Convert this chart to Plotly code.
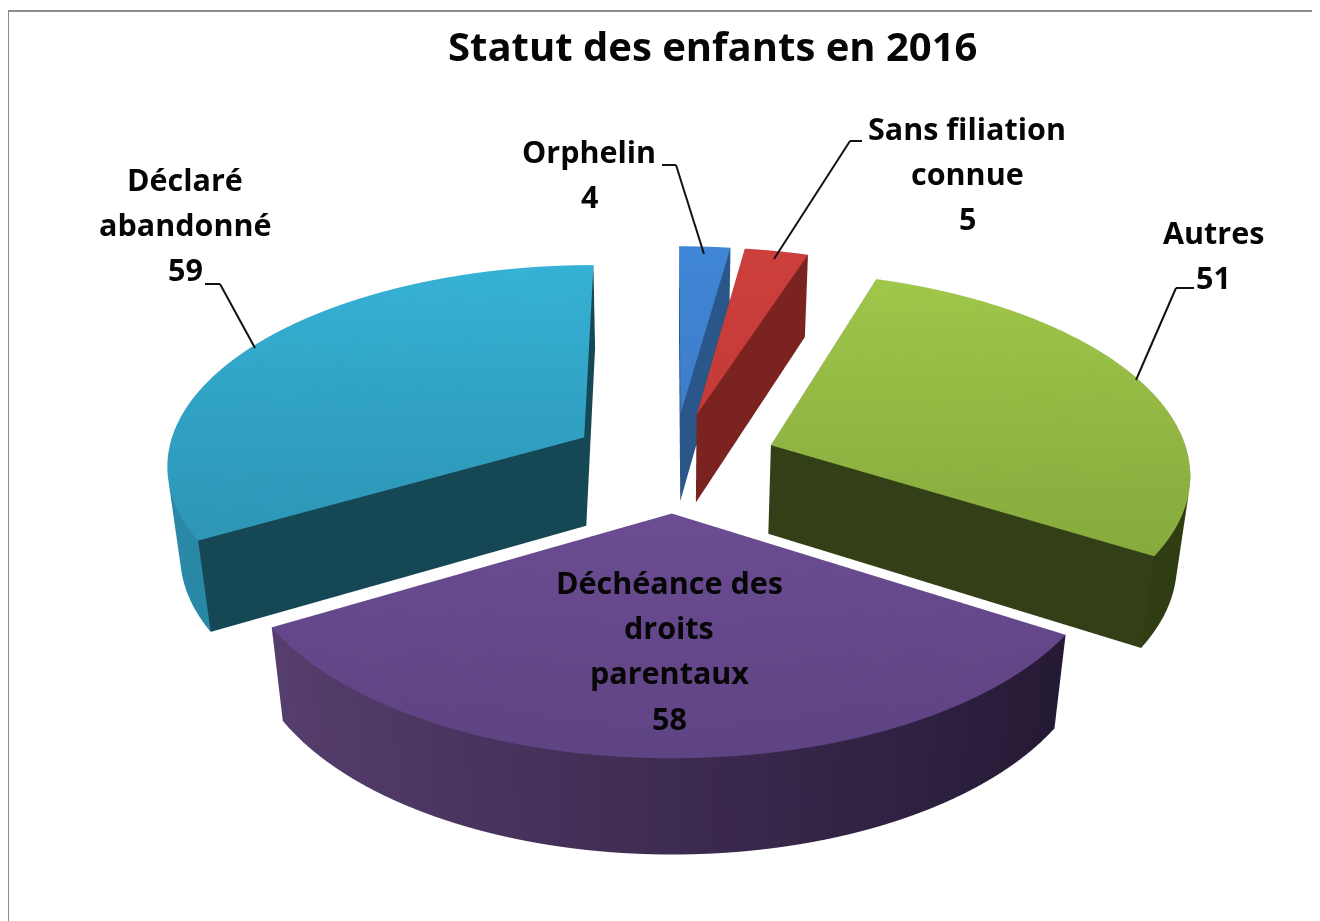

import numpy as np
import plotly.graph_objects as go

categories = ["Orphelin", "Sans filiation connue", "Autres", "Déchéance des droits parentaux", "Déclaré abandonné"]
values = [4, 5, 51, 58, 59]

top_far = ["#3f86d6", "#cc3f3c", "#a2cb4b", "#8059ab", "#36b4d8"]
top_near = ["#3a74b8", "#b83633", "#7c9c38", "#5f4484", "#2a87a5"]
wall_a = ["#2f5f96", "#8f2a28", "#3c4a16", "#5a4172", "#2a8aa8"]
wall_b = ["#274f7e", "#7e2422", "#303c12", "#211731", "#1f6f88"]
cut_col = ["#2a568a", "#7a2321", "#333f17", "#33254a", "#164754"]

R, H, PULL = 1.0, 0.24, 0.25


def rgb(c):
    return np.array([int(c[i:i + 2], 16) for i in (1, 3, 5)], float)


def mix(a, b, t):
    v = rgb(a) * (1 - t) + rgb(b) * t
    return f"rgb({int(v[0])},{int(v[1])},{int(v[2])})"


fig = go.Figure()
total = sum(values)
start = 0.0
for i, v in enumerate(values):
    sweep = 2 * np.pi * v / total
    mid = start + sweep / 2
    ox, oy = PULL * np.sin(mid), PULL * np.cos(mid)
    th = np.linspace(start, start + sweep, max(4, int(np.degrees(sweep)) + 1))
    xs, ys, zs, cols, I, J, K = [], [], [], [], [], [], []

    def add(x, y, z, c):
        xs.append(x); ys.append(y); zs.append(z); cols.append(c)
        return len(xs) - 1

    def tone(y):
        return mix(top_near[i], top_far[i], float(np.clip((y + 1.2) / 2.4, 0, 1)))

    # top
    a = add(ox, oy, 0, tone(oy))
    rim = [add(ox + R * np.sin(t), oy + R * np.cos(t), 0, tone(oy + R * np.cos(t))) for t in th]
    for p, q in zip(rim[:-1], rim[1:]):
        I.append(a); J.append(p); K.append(q)
    # outer wall
    up, lo = [], []
    for t in th:
        f = float((np.sin(t) + 1) / 2)
        c = mix(wall_a[i], wall_b[i], f)
        up.append(add(ox + R * np.sin(t), oy + R * np.cos(t), 0, c))
        lo.append(add(ox + R * np.sin(t), oy + R * np.cos(t), -H, c))
    for j in range(len(th) - 1):
        I += [up[j], up[j + 1]]; J += [lo[j], lo[j]]; K += [up[j + 1], lo[j + 1]]
    # cut walls
    for t in (th[0], th[-1]):
        c = cut_col[i]
        p0 = add(ox, oy, 0, c); p1 = add(ox, oy, -H, c)
        p2 = add(ox + R * np.sin(t), oy + R * np.cos(t), 0, c)
        p3 = add(ox + R * np.sin(t), oy + R * np.cos(t), -H, c)
        I += [p0, p1]; J += [p1, p3]; K += [p2, p2]
    fig.add_trace(go.Mesh3d(
        x=xs, y=ys, z=zs, i=I, j=J, k=K, vertexcolor=cols, name=categories[i],
        flatshading=True, hoverinfo="skip",
        lighting=dict(ambient=1, diffuse=0, specular=0, roughness=1, fresnel=0),
    ))
    start += sweep

W, HT = 1320, 2087
hidden = dict(visible=False, showgrid=False, zeroline=False, showbackground=False,
              showticklabels=False, title="")
fig.update_layout(
    width=W, height=HT, paper_bgcolor="white", showlegend=False,
    margin=dict(l=0, r=0, t=0, b=0),
    scene=dict(
        domain=dict(x=[0, 1], y=[0, 1]),
        xaxis=dict(hidden, range=[-1.5, 1.5]),
        yaxis=dict(hidden, range=[-1.5, 1.5]),
        zaxis=dict(hidden, range=[-0.5, 0.5]),
        aspectmode="manual", aspectratio=dict(x=1, y=1, z=1 / 3),
        camera=dict(eye=dict(x=-0.0044, y=-1.824, z=0.957), center=dict(x=-0.0044, y=-0.307, z=-0.355), up=dict(x=0, y=0, z=1)),
    ),
)

FONT = "Open Sans"


def px(x, y):
    return (x - 8) / W, 1 - (y - 8) / HT


def label(text, x, y, size=30.5):
    fx, fy = px(x, y)
    fig.add_annotation(text=text, x=fx, y=fy, xref="paper", yref="paper", showarrow=False,
                       xanchor="center", yanchor="middle",
                       font=dict(family=FONT, size=size, color="#060606"), align="center")


label("<b>Statut des enfants en 2016</b>", 712, 45, 40)
for t, x, y in [("Orphelin", 589, 151), ("4", 589, 196), ("Sans filiation", 967, 128), ("connue", 967, 173), ("5", 967, 218),
                ("Autres", 1213, 232), ("51", 1213, 277), ("Déchéance des", 669, 582), ("droits", 669, 627),
                ("parentaux", 669, 672), ("58", 669, 718), ("Déclaré", 185, 179), ("abandonné", 185, 224), ("59", 185, 269)]:
    label(f"<b>{t}</b>", x, y)


def poly(points, color="#111111", width=2):
    for (x0, y0), (x1, y1) in zip(points[:-1], points[1:]):
        a0, b0 = px(x0, y0); a1, b1 = px(x1, y1)
        fig.add_shape(type="line", xref="paper", yref="paper", x0=a0, y0=b0, x1=a1, y1=b1,
                      line=dict(color=color, width=width))


poly([(662, 165), (676, 165), (704, 254)])
poly([(862, 141), (850, 141), (774, 259)])
poly([(1194, 288), (1176, 288), (1136, 380)])
poly([(205, 284), (220, 284), (255, 348)])
poly([(8, 921), (8, 11), (1320, 11)], color="#8c8c8c", width=2)

fig.write_html("out.html", config=dict(displayModeBar=False))
